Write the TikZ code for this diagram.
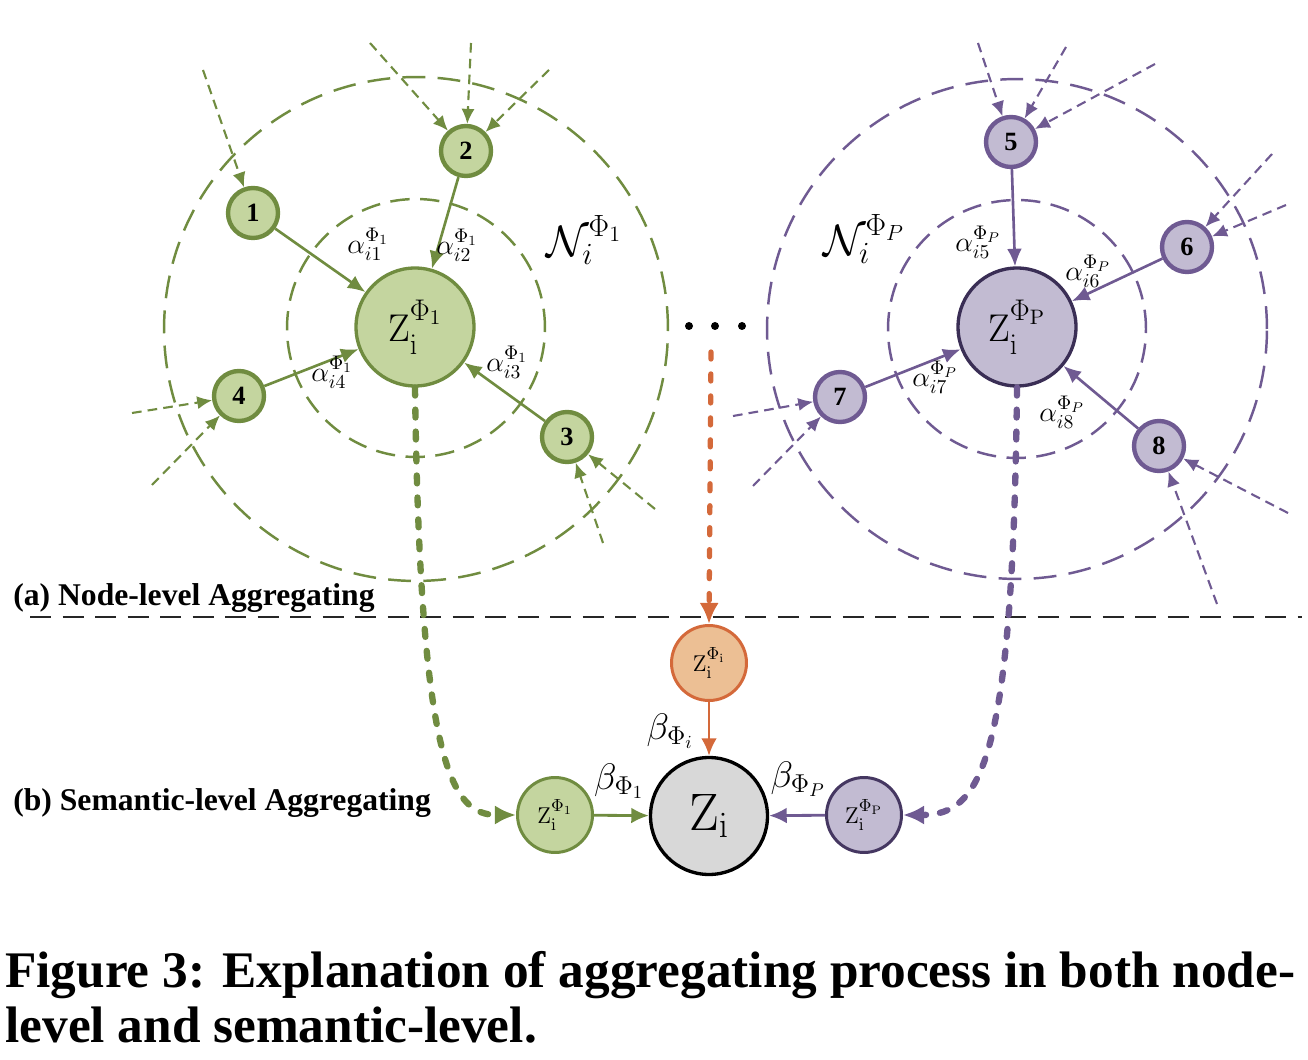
\RequirePackage{fix-cm}
\documentclass[tikz,border=0pt]{standalone}
\usepackage[no-math]{fontspec}
\newfontfamily\tnr{Liberation Serif}
\usetikzlibrary{arrows.meta}
\definecolor{gstroke}{HTML}{708C40}
\definecolor{gfill}{HTML}{C4D59F}
\definecolor{pstroke}{HTML}{6F5A92}
\definecolor{pfill}{HTML}{C2BBD2}
\definecolor{pdark}{HTML}{3A2E55}
\definecolor{ostroke}{HTML}{D4693A}
\definecolor{ofill}{HTML}{ECBF94}
\definecolor{zgray}{HTML}{D8D8D8}
% #1 script size, #2 raise of superscript, #3 superscript, #4 lowering of subscript
\newcommand{\myZlab}[4]{$\mathrm{Z}^{\raisebox{#2}{\fontsize{#1}{#1}\selectfont$#3$}}_{\raisebox{-#4}{\fontsize{#1}{#1}\selectfont$\mathrm{i}$}}$}
\begin{document}
\begin{tikzpicture}[x=0.02cm,y=-0.02cm,
  num/.style={circle, line width=2.5pt, minimum size=1.0cm, inner sep=0pt, font=\tnr\bfseries\fontsize{15}{15}\selectfont},
  gnum/.style={num, draw=gstroke, fill=gfill},
  pnum/.style={num, draw=pstroke, fill=pfill},
  bigz/.style={circle, line width=1.9pt, minimum size=2.36cm, inner sep=0pt, font=\fontsize{22}{26}\selectfont},
  sem/.style={circle, line width=1.7pt, minimum size=1.5cm, inner sep=0pt, font=\fontsize{13}{15}\selectfont},
  ring/.style={line width=1.4pt, dash pattern=on 13pt off 7pt},
  ringin/.style={line width=1.4pt, dash pattern=on 11pt off 6pt},
  arr/.style={line width=1.5pt, -{Latex[length=10pt,width=8.5pt]}},
  arrs/.style={line width=1.6pt, -{Latex[length=10pt,width=9pt]}},
  inarr/.style={line width=1.2pt, dash pattern=on 5.5pt off 3.5pt, -{Latex[length=8.5pt,width=7.5pt]}},
  thickdots/.style={line width=3.6pt, line cap=round, dash pattern=on 4.5pt off 8pt, -{Latex[length=12pt,width=11pt]}},
  lab/.style={font=\fontsize{16}{18}\selectfont, inner sep=0pt},
  biglab/.style={font=\fontsize{25}{28}\selectfont, inner sep=0pt},
  blab/.style={font=\fontsize{21}{24}\selectfont, inner sep=0pt},
  txt/.style={font=\tnr\bfseries\fontsize{18}{20}\selectfont, inner sep=0pt, anchor=base west},
  captxt/.style={font=\tnr\bfseries\fontsize{29.2}{32}\selectfont, inner sep=0pt, anchor=base west},
  dotn/.style={circle, fill=black, inner sep=0pt, minimum size=0.16cm}
]
\useasboundingbox (0,0) rectangle (1308,1060);

% ---------- rings ----------
\draw[ring, gstroke] (416,329) circle[radius=5.04cm];
\draw[ringin, gstroke] (416,328) circle[radius=2.58cm];
\draw[ring, pstroke] (1017,329) circle[radius=5.0cm];
\draw[ringin, pstroke] (1017,329) circle[radius=2.58cm];

% ---------- left cluster ----------
\node[bigz, draw=gstroke, fill=gfill] (zg) at (415,327) {\myZlab{17}{4pt}{\Phi_1}{2pt}};
\node[gnum] (n1) at (253,213) {1};
\node[gnum] (n2) at (466,151) {2};
\node[gnum] (n3) at (567,437) {3};
\node[gnum] (n4) at (239,396) {4};
\draw[arr, gstroke] (n1) -- (zg);
\draw[arr, gstroke] (n2) -- (zg);
\draw[arr, gstroke] (n3) -- (zg);
\draw[arr, gstroke] (n4) -- (zg);

\coordinate (i1a) at (203,70);
\coordinate (i2a) at (370,43);
\coordinate (i2b) at (471,43);
\coordinate (i2c) at (549,70);
\coordinate (i4a) at (132,413);
\coordinate (i4b) at (152,485);
\coordinate (i3a) at (655,509);
\coordinate (i3b) at (603,543);
\draw[inarr, gstroke] (i1a) -- (n1);
\draw[inarr, gstroke] (i2a) -- (n2);
\draw[inarr, gstroke] (i2b) -- (n2);
\draw[inarr, gstroke] (i2c) -- (n2);
\draw[inarr, gstroke] (i4a) -- (n4);
\draw[inarr, gstroke] (i4b) -- (n4);
\draw[inarr, gstroke] (i3a) -- (n3);
\draw[inarr, gstroke] (i3b) -- (n3);

\node[lab] (a1) at (368,244) {$\alpha_{i1}^{\Phi_1}$};
\node[lab] (a2) at (457,245) {$\alpha_{i2}^{\Phi_1}$};
\node[lab] (a3) at (507,362) {$\alpha_{i3}^{\Phi_1}$};
\node[lab] (a4) at (332,372) {$\alpha_{i4}^{\Phi_1}$};
\node[biglab] (nl) at (584,240) {$\mathcal{N}_i^{\Phi_1}$};

% ---------- right cluster ----------
\node[bigz, draw=pdark, fill=pfill] (zp) at (1017,327) {\myZlab{17}{4pt}{\Phi_{\mathrm{P}}}{2pt}};
\node[pnum] (n5) at (1011,142) {5};
\node[pnum] (n6) at (1187,247) {6};
\node[pnum] (n7) at (840,397) {7};
\node[pnum] (n8) at (1159,446) {8};
\draw[arr, pstroke] (n5) -- (zp);
\draw[arr, pstroke] (n6) -- (zp);
\draw[arr, pstroke] (n7) -- (zp);
\draw[arr, pstroke] (n8) -- (zp);

\coordinate (i5a) at (978,43);
\coordinate (i5b) at (1066,47);
\coordinate (i5c) at (1155,64);
\coordinate (i6a) at (1272,154);
\coordinate (i6b) at (1286,205);
\coordinate (i7a) at (733,416);
\coordinate (i7b) at (753,486);
\coordinate (i8a) at (1288,513);
\coordinate (i8b) at (1217,604);
\draw[inarr, pstroke] (i5a) -- (n5);
\draw[inarr, pstroke] (i5b) -- (n5);
\draw[inarr, pstroke] (i5c) -- (n5);
\draw[inarr, pstroke] (i6a) -- (n6);
\draw[inarr, pstroke] (i6b) -- (n6);
\draw[inarr, pstroke] (i7a) -- (n7);
\draw[inarr, pstroke] (i7b) -- (n7);
\draw[inarr, pstroke] (i8a) -- (n8);
\draw[inarr, pstroke] (i8b) -- (n8);

\node[lab] (a5) at (978,242) {$\alpha_{i5}^{\Phi_P}$};
\node[lab] (a6) at (1088,271) {$\alpha_{i6}^{\Phi_P}$};
\node[lab] (a7) at (935,377) {$\alpha_{i7}^{\Phi_P}$};
\node[lab] (a8) at (1062,412) {$\alpha_{i8}^{\Phi_P}$};
\node[biglab] (nr) at (864,239) {$\mathcal{N}_i^{\Phi_P}$};

% ---------- dots ----------
\node[dotn] (d1) at (689,326) {};
\node[dotn] (d2) at (715,326) {};
\node[dotn] (d3) at (742,326) {};

% ---------- separator ----------
\coordinate (sl) at (30,617);
\coordinate (sr) at (1302,617);
\draw[line width=1.4pt, black!85, dash pattern=on 12pt off 6.5pt] (sl) -- (sr);

\node[txt] (ta) at (13,605) {(a) Node-level Aggregating};
\node[txt] (tb) at (13,810) {(b) Semantic-level Aggregating};

% ---------- semantic level ----------
\node[circle, draw=black, fill=zgray, line width=1.9pt, minimum size=2.34cm, inner sep=0pt, font=\fontsize{30}{34}\selectfont] (zi) at (709,816) {$\mathrm{Z}_{\mathrm{i}}$};
\node[sem, draw=ostroke, fill=ofill] (so) at (709,663) {\myZlab{10}{2pt}{\Phi_{\mathrm{i}}}{1pt}};
\node[sem, draw=gstroke, fill=gfill] (sg) at (555,815) {\myZlab{10}{2pt}{\Phi_1}{1pt}};
\node[sem, draw=pdark!80!pstroke, fill=pfill] (sp) at (864,815) {\myZlab{10}{2pt}{\Phi_{\mathrm{P}}}{1pt}};

\draw[arrs, ostroke] (so) -- (zi);
\draw[arrs, gstroke] (sg) -- (zi);
\draw[arrs, pstroke] (sp) -- (zi);

\node[blab] (bi) at (670,731) {$\beta_{\Phi_i}$};
\node[blab] (b1) at (619,781) {$\beta_{\Phi_1}$};
\node[blab] (bp) at (798,779) {$\beta_{\Phi_P}$};

% ---------- dotted links ----------
\coordinate (od) at (711,352);
\draw[thickdots, ostroke, line width=3pt, dash pattern=on 4pt off 8.5pt] (od) -- (so.north);
\draw[thickdots, gstroke] (zg.south) .. controls (420,760) and (450,815) .. (sg.west);
\draw[thickdots, pstroke] (zp.south) .. controls (1013,760) and (982,815) .. (sp.east);

% ---------- caption ----------
\node[captxt] (c1) at (5,987) {Figure 3: Explanation of aggregating process in both node-};
\node[captxt] (c2) at (5,1042) {level and semantic-level.};
\end{tikzpicture}
\end{document}
